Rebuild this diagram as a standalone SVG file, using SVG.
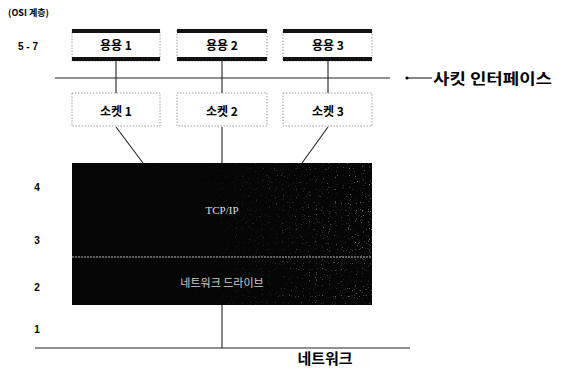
<svg xmlns="http://www.w3.org/2000/svg" width="579" height="368" viewBox="0 0 579 368">
<style>
.k{font-family:"Noto Sans CJK KR","Noto Sans",sans-serif;font-weight:bold;fill:#000}
.lbl{font-size:12px;text-anchor:middle}
.num{font-family:"Liberation Sans",sans-serif;font-weight:bold;font-size:10px;fill:#000;text-anchor:middle}
.box{fill:#fff;stroke:#888;stroke-width:0.8;stroke-dasharray:1.5 1.5}
.bar{fill:#111}
.ln{stroke:#222;stroke-width:1.1;fill:none}
</style>
<defs>
<filter id="spk" x="0" y="0" width="1" height="1">
<feTurbulence type="fractalNoise" baseFrequency="0.85" numOctaves="1" seed="3" result="n"/>
<feColorMatrix in="n" type="matrix" values="0 0 0 0 0.7  0 0 0 0 0.7  0 0 0 0 0.7  9 0 0 0 -5.9"/>
</filter>
<linearGradient id="fade" x1="0" y1="0" x2="1" y2="0">
<stop offset="0" stop-color="#fff" stop-opacity="0"/>
<stop offset="0.45" stop-color="#fff" stop-opacity="0.04"/>
<stop offset="0.75" stop-color="#fff" stop-opacity="0.3"/>
<stop offset="1" stop-color="#fff" stop-opacity="0.55"/>
</linearGradient>
<mask id="m"><rect x="72" y="163" width="300" height="142" fill="url(#fade)"/></mask>
</defs>
<rect width="579" height="368" fill="#fff"/>

<text class="k" x="8" y="16" font-size="9">(OSI 계층)</text>
<text class="num" x="28" y="50">5 - 7</text>
<text class="num" x="37" y="191">4</text>
<text class="num" x="37" y="244">3</text>
<text class="num" x="37" y="291">2</text>
<text class="num" x="37" y="333">1</text>

<g id="connectors">
<line class="ln" x1="55" y1="78" x2="390" y2="78" stroke-width="1"/>
<line class="ln" x1="116" y1="61" x2="116" y2="93"/>
<line class="ln" x1="222" y1="61" x2="222" y2="93"/>
<line class="ln" x1="328" y1="61" x2="328" y2="93"/>
<line class="ln" x1="116" y1="127" x2="143" y2="163"/>
<line class="ln" x1="222" y1="127" x2="222" y2="163"/>
<line class="ln" x1="328" y1="127" x2="302" y2="163"/>
<line class="ln" x1="222" y1="305" x2="222" y2="348"/>
<line class="ln" x1="35" y1="348" x2="410" y2="348" stroke-width="1.2"/>
<line class="ln" x1="407" y1="78" x2="432" y2="78" stroke-width="0.9"/>
<circle cx="407" cy="78" r="1.6" fill="#000"/>
</g>
<text class="k" x="433" y="84" font-size="15" textLength="119" lengthAdjust="spacingAndGlyphs">사킷 인터페이스</text>

<g id="app1">
<rect class="box" x="72" y="30" width="88" height="31"/>
<rect class="bar" x="72" y="29" width="88" height="4"/>
<rect class="bar" x="72" y="57" width="88" height="4"/>
<text class="k lbl" x="116" y="50">용용 1</text>
</g>
<g id="app2">
<rect class="box" x="177" y="30" width="90" height="31"/>
<rect class="bar" x="177" y="29" width="90" height="4"/>
<rect class="bar" x="177" y="57" width="90" height="4"/>
<text class="k lbl" x="222" y="50">용용 2</text>
</g>
<g id="app3">
<rect class="box" x="283" y="30" width="89" height="31"/>
<rect class="bar" x="283" y="29" width="89" height="4"/>
<rect class="bar" x="283" y="57" width="89" height="4"/>
<text class="k lbl" x="328" y="50">용용 3</text>
</g>

<g id="sock1">
<rect class="box" x="72" y="93" width="88" height="33"/>
<text class="k lbl" x="116" y="116">소켓 1</text>
</g>
<g id="sock2">
<rect class="box" x="177" y="93" width="90" height="33"/>
<text class="k lbl" x="222" y="116">소켓 2</text>
</g>
<g id="sock3">
<rect class="box" x="283" y="93" width="89" height="33"/>
<text class="k lbl" x="328" y="116">소켓 3</text>
</g>

<g id="stack">
<rect x="72" y="163" width="300" height="142" fill="#060606"/>
<rect x="72" y="163" width="300" height="142" filter="url(#spk)" mask="url(#m)"/>
<line x1="72" y1="257" x2="372" y2="257" stroke="#bbb" stroke-width="1" stroke-dasharray="2 1"/>
<text x="222" y="214" font-family="Liberation Serif,serif" font-size="11" fill="#ddd" text-anchor="middle">TCP/IP</text>
<text x="222" y="287" font-family="Noto Sans CJK KR,sans-serif" font-size="11" fill="#ccc" text-anchor="middle">네트워크 드라이브</text>
</g>

<text class="k" x="325" y="364" font-size="15" text-anchor="middle">네트워크</text>
</svg>
